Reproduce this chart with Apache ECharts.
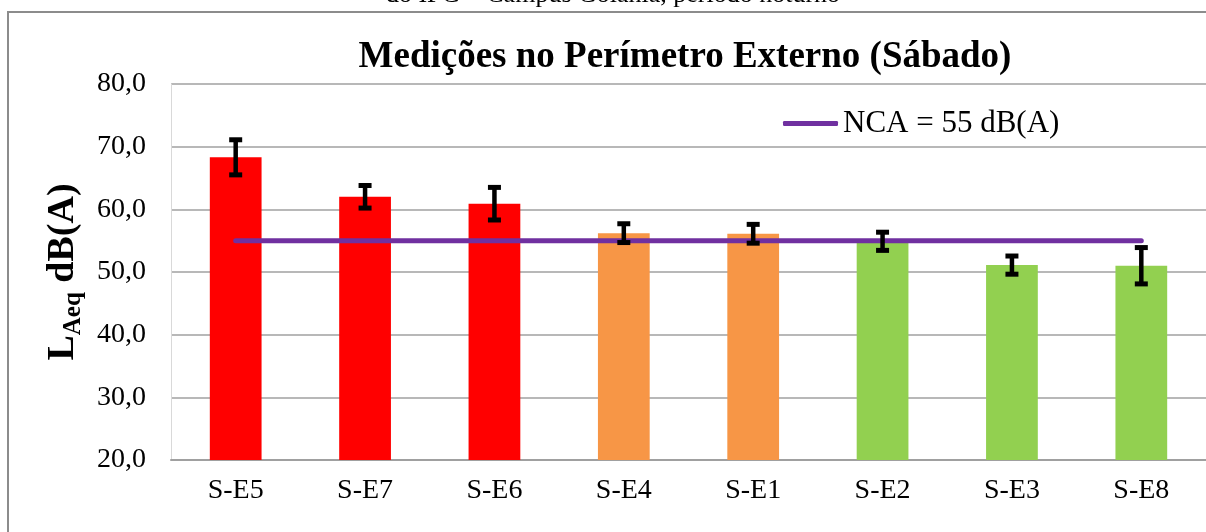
<!DOCTYPE html>
<html>
<head>
<meta charset="utf-8">
<script src="https://cdn.jsdelivr.net/npm/echarts@6/dist/echarts.min.js"></script>
<style>
html,body{margin:0;padding:0;background:#fff;}
#chart{width:1206px;height:532px;}
</style>
</head>
<body>
<div id="chart"></div>
<script>
// ---- data ----
const categories = ['S-E5', 'S-E7', 'S-E6', 'S-E4', 'S-E1', 'S-E2', 'S-E3', 'S-E8'];
const laeq = [68.3, 62.0, 60.9, 56.2, 56.1, 54.9, 51.1, 51.0];
const laeqError = [2.8, 1.8, 2.6, 1.5, 1.5, 1.45, 1.45, 2.9];
const ncaLimit = [55, 55, 55, 55, 55, 55, 55, 55];
const levelClass = ['above', 'above', 'above', 'near', 'near', 'below', 'below', 'below'];
const yMin = 20, yMax = 80, yStep = 10;
const titleText = 'Medições no Perímetro Externo (Sábado)';
const captionText = 'do IFG – Campus Goiânia, período noturno';
const legendName = 'NCA = 55 dB(A)';

// ---- styles ----
const SERIF = '"Liberation Serif", "Times New Roman", Times, serif';
const classColor = { above: '#FF0000', near: '#F79646', below: '#92D050' };

const chart = echarts.init(document.getElementById('chart'), null, { renderer: 'canvas' });

const barData = laeq.map((v, i) => ({ value: v, itemStyle: { color: classColor[levelClass[i]] } }));
const errData = laeq.map((v, i) => [i, v - laeqError[i], v + laeqError[i]]);

const option = {
  backgroundColor: '#ffffff',
  animation: false,
  grid: { left: 171, top: 84, width: 1043, height: 376, containLabel: false },
  graphic: [
    { type: 'rect', shape: { x: 8, y: 12, width: 1300, height: 700 },
      style: { fill: 'none', stroke: '#8C8C8C', lineWidth: 2 }, z: 0 },
    { type: 'text', x: 613, y: 8,
      style: { text: captionText, font: '26px ' + SERIF, fill: '#000', align: 'center', verticalAlign: 'bottom' } },
    { type: 'text', x: 685, y: 39,
      style: { text: titleText, font: 'bold 37px ' + SERIF, fill: '#000', align: 'center', verticalAlign: 'top' } }
  ],
  legend: {
    show: true,
    left: 778, top: 103,
    itemWidth: 55, itemHeight: 5,
    data: [{ name: legendName, icon: 'roundRect' }],
    textStyle: { fontFamily: SERIF, fontSize: 31, color: '#000' }
  },
  xAxis: {
    type: 'category',
    data: categories,
    boundaryGap: true,
    axisLine: { show: true, lineStyle: { color: '#A0A0A0', width: 2 } },
    axisTick: { show: false },
    axisLabel: { margin: 17, fontFamily: SERIF, fontSize: 28, color: '#000' },
    splitLine: { show: false }
  },
  yAxis: {
    type: 'value',
    min: yMin, max: yMax, interval: yStep,
    axisLine: { show: true, lineStyle: { color: '#D9D9D9', width: 1 } },
    axisTick: { show: false },
    axisLabel: {
      margin: 25, fontFamily: SERIF, fontSize: 28, color: '#000',
      formatter: v => v.toFixed(1).replace('.', ',')
    },
    splitLine: { show: true, lineStyle: { color: '#A0A0A0', width: 1.5 } },
    name: '{L|L}{s|Aeq}{n| dB(A)}',
    nameLocation: 'middle',
    nameRotate: 90,
    nameGap: 76,
    nameTextStyle: {
      fontFamily: SERIF, fontWeight: 'bold', color: '#000',
      rich: {
        L: { fontFamily: SERIF, fontWeight: 'bold', fontSize: 38, lineHeight: 46, verticalAlign: 'middle' },
        s: { fontFamily: SERIF, fontWeight: 'bold', fontSize: 25, lineHeight: 46, verticalAlign: 'bottom', padding: [18, 0, 0, 0] },
        n: { fontFamily: SERIF, fontWeight: 'bold', fontSize: 38, lineHeight: 46, verticalAlign: 'middle' }
      }
    }
  },
  series: [
    {
      name: 'LAeq',
      type: 'bar',
      data: barData,
      barWidth: '40%',
      z: 2
    },
    {
      name: legendName,
      type: 'line',
      data: ncaLimit,
      symbol: 'none',
      lineStyle: { color: '#7030A0', width: 5, cap: 'round' },
      itemStyle: { color: '#7030A0' },
      z: 3
    },
    {
      name: 'erro',
      type: 'custom',
      data: errData,
      z: 4,
      renderItem: function (params, api) {
        const idx = api.value(0);
        const lo = api.coord([idx, api.value(1)]);
        const hi = api.coord([idx, api.value(2)]);
        const hw = 6.5;
        const st = { stroke: '#000', lineWidth: 4.5 };
        const cap = { stroke: '#000', lineWidth: 5 };
        return {
          type: 'group',
          children: [
            { type: 'line', shape: { x1: lo[0], y1: lo[1], x2: hi[0], y2: hi[1] }, style: st },
            { type: 'line', shape: { x1: hi[0] - hw, y1: hi[1], x2: hi[0] + hw, y2: hi[1] }, style: cap },
            { type: 'line', shape: { x1: lo[0] - hw, y1: lo[1], x2: lo[0] + hw, y2: lo[1] }, style: cap }
          ]
        };
      }
    }
  ]
};
chart.setOption(option);
</script>
</body>
</html>
